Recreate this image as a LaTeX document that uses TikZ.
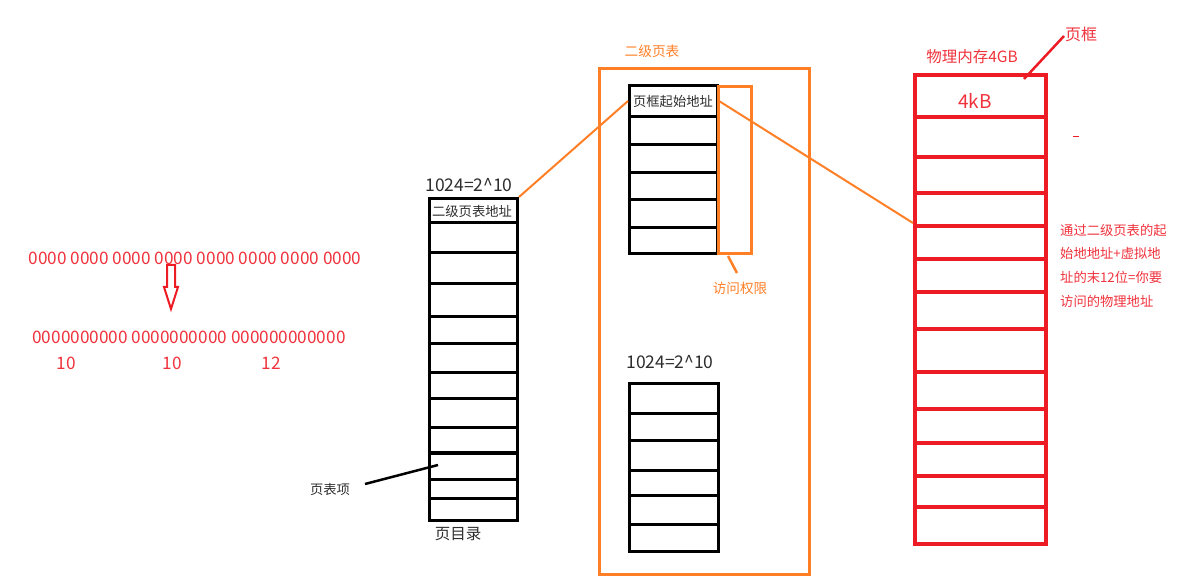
\documentclass[tikz,border=0pt]{standalone}
\usepackage{fontspec}
\newfontfamily\cjk{Noto Sans CJK SC}
\definecolor{mred}{RGB}{237,28,36}
\definecolor{tred}{RGB}{240,50,60}
\definecolor{morange}{RGB}{255,127,39}
\definecolor{tgray}{RGB}{45,45,45}
\begin{document}
\begin{tikzpicture}[x=1pt,y=-1pt,
  txt/.style={font=\cjk\fontsize{13.3}{15}\selectfont, inner sep=0pt},
  num/.style={font=\cjk\fontsize{17.2}{19}\selectfont, inner sep=0pt, text=tred},
  big/.style={font=\cjk\fontsize{17.5}{19}\selectfont, inner sep=0pt, text=tgray},
  box/.style={draw, line width=#1, inner sep=0pt, anchor=north west},
  blk/.style={black, line width=3pt},
  redl/.style={mred, line width=4pt},
  orl/.style={morange, line width=2.5pt}]
\useasboundingbox (0,0) rectangle (1179,585);

% ---- left: virtual address ----
\node[num] (addr) at (195,258) {0000 0000 0000 0000 0000 0000 0000 0000};
\node[num] (split) at (189,337) {0000000000 0000000000 000000000000};
\node[num] (n1) at (66,363) {10};
\node[num] (n2) at (172,363) {10};
\node[num] (n3) at (271,363) {12};
\draw[mred, line width=2pt, line join=miter]
  (167,265) -- (175,265) -- (175,287) -- (178,287) -- (171,309) -- (164,287) -- (167,287) -- cycle;

% ---- page directory ----
\node[box=3pt, minimum width=88pt, minimum height=322pt] (dir) at (428,197) {};
\foreach \yy in {223,253,284,317,344,373,399,428,453,479,498}
  \draw[blk] (428,\yy) -- (516,\yy);
\node[big] (dirn) at (469,185) {1024=2\textasciicircum10};
\node[txt, text=tgray] (dir0) at (472,211) {二级页表地址};
\node[txt, text=tgray] (pte) at (330,489) {页表项};
\coordinate (ptep) at (438,465);
\draw[black, line width=2.5pt] (365,484) coordinate (ptes) -- (ptep);
\node[txt, text=tgray, font=\cjk\fontsize{15.5}{17}\selectfont] (dirl) at (458,534) {页目录};

% ---- second level page table ----
\node[box=3pt, draw=morange, minimum width=210pt, minimum height=506pt] (l2) at (598,67) {};
\node[txt, text=morange, font=\cjk\fontsize{13.7}{15}\selectfont] (l2l) at (652,51) {二级页表};
\node[box=3pt, minimum width=88pt, minimum height=168pt] (t1) at (628,84) {};
\foreach \yy in {117,145,173,200,228}
  \draw[blk] (628,\yy) -- (716,\yy);
\node[txt, text=tgray] (t10) at (673,101) {页框起始地址};
\node[box=3pt, draw=morange, minimum width=33pt, minimum height=167pt] (perm) at (717,85) {};
\node[txt, text=morange, font=\cjk\fontsize{13.6}{15}\selectfont] (perml) at (740,288) {访问权限};
\coordinate (permp) at (737,273);
\draw[orl] (728,256) coordinate (perms) -- (permp);

\node[big] (t2n) at (670,362) {1024=2\textasciicircum10};
\node[box=3pt, minimum width=89pt, minimum height=168pt] (t2) at (628,382) {};
\foreach \yy in {414,441,470,495,524}
  \draw[blk] (628,\yy) -- (717,\yy);

% ---- physical memory ----
\node[box=4pt, draw=mred, minimum width=131pt, minimum height=469pt] (mem) at (913,73) {};
\foreach \yy in {117,157,193,226,259,292,329,372,409,443,476,507}
  \draw[redl] (913,\yy) -- (1044,\yy);
\node[txt, text=tred, font=\cjk\fontsize{15.5}{17}\selectfont] (meml) at (972,57) {物理内存4GB};
\node[num, font=\cjk\fontsize{19}{21}\selectfont] (kb) at (975,101) {4kB};
\node[txt, text=tred, font=\cjk\fontsize{16}{18}\selectfont] (frl) at (1081,34) {页框};
\coordinate (frp) at (1024,79);
\draw[mred, line width=2.5pt] (1064,36) coordinate (frs) -- (frp);
\draw[mred, line width=1pt] (1073,137) -- (1079,137);
\node[txt, text=tred, anchor=west] (e1) at (1060,230) {通过二级页表的起};
\node[txt, text=tred, anchor=west] (e2) at (1060,253) {始地地址+虚拟地};
\node[txt, text=tred, anchor=west] (e3) at (1060,277) {址的末12位=你要};
\node[txt, text=tred, anchor=west] (e4) at (1060,301) {访问的物理地址};

% ---- orange connectors ----
\coordinate (memp) at (913,223);
\draw[morange, line width=2pt] (dir.north east) -- (t1.north west |- t10.west);
\draw[morange, line width=2pt] (t1.north east |- t10.east) -- (memp);
\end{tikzpicture}
\end{document}
